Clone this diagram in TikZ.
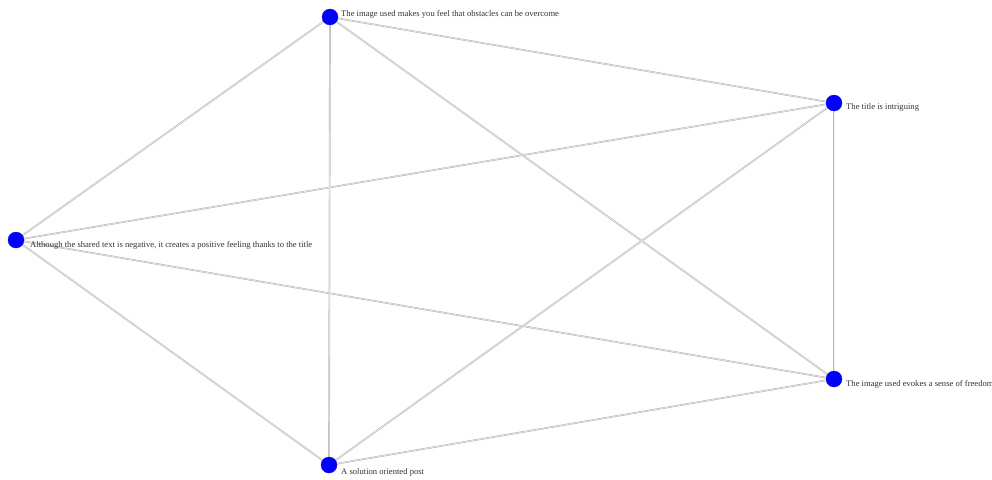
\documentclass[tikz,border=0pt]{standalone}
\usepackage{fontspec}
\setmainfont{Liberation Serif}
\usetikzlibrary{backgrounds}
\begin{document}
\begin{tikzpicture}[x=1pt,y=-1pt,
  vert/.style={circle,fill=blue,draw=blue!80!black,line width=0.3pt,minimum size=16pt,inner sep=0pt},
  lab/.style={anchor=west,inner sep=0pt,font=\fontsize{8.6}{10}\selectfont,text=black!80},
  edgeouter/.style={draw=black!27,line width=1.7pt},
  edgeinner/.style={draw=black!6,line width=0.5pt}]
\useasboundingbox (0,0) rectangle (992,479);
\node[vert] (a) at (330,17) {};
\node[vert] (b) at (834,103) {};
\node[vert] (c) at (16,240) {};
\node[vert] (d) at (834,379) {};
\node[vert] (e) at (329,465) {};
\node[lab] (la) at (341,14) {The image used makes you feel that obstacles can be overcome};
\node[lab] (lb) at (846,107) {The title is intriguing};
\node[lab] (lc) at (30,245) {Although the shared text is negative, it creates a positive feeling thanks to the title};
\node[lab] (ld) at (846,384) {The image used evokes a sense of freedom};
\node[lab] (le) at (341,472) {A solution oriented post};
\begin{scope}[on background layer]
\fill[white] (0,0) rectangle (992,479);
\foreach \u/\v in {a/b,a/c,a/d,a/e,b/c,b/d,b/e,c/d,c/e,d/e}
  \draw[edgeouter] (\u.center) -- (\v.center);
\foreach \u/\v in {a/b,a/c,a/d,a/e,b/c,b/d,b/e,c/d,c/e,d/e}
  \draw[edgeinner] (\u.center) -- (\v.center);
\end{scope}
\end{tikzpicture}
\end{document}
